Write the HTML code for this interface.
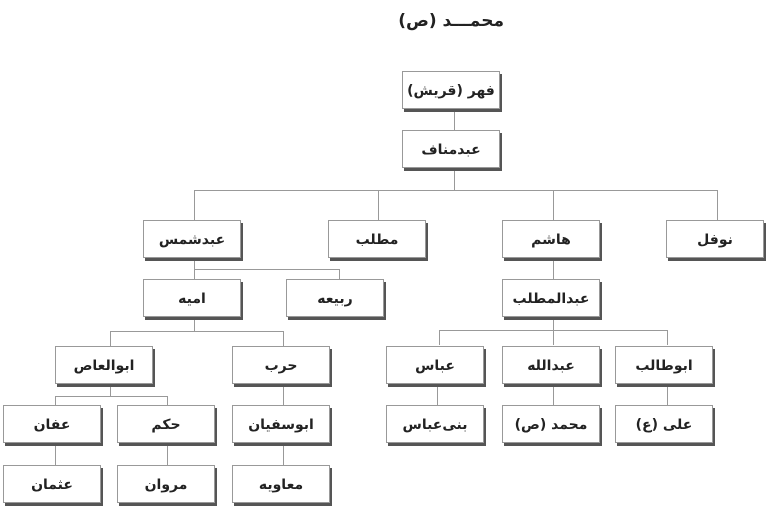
<!DOCTYPE html>
<html><head><meta charset="utf-8"><style>
body{margin:0;width:768px;height:507px;background:#fff;position:relative;overflow:hidden;font-family:"DejaVu Sans","Noto Sans CJK SC",sans-serif;}
.b{position:absolute;width:96px;height:35px;border:1px solid #999;background:#fff;box-shadow:2px 3px 0 #555;box-sizing:content-box;display:flex;align-items:center;justify-content:center;font-weight:bold;font-size:14px;color:#222;direction:rtl;padding-top:1px;}
.h,.v{position:absolute;background:#999;}
.h{height:1px}.v{width:1px}
.t{position:absolute;left:390px;top:11px;width:114px;text-align:right;direction:rtl;font-weight:bold;font-size:17px;color:#222;}
</style></head><body>
<div class="t">محمـــد (ص)</div>
<div class="v" style="left:454px;top:108px;height:22px"></div>
<div class="v" style="left:454px;top:168px;height:22px"></div>
<div class="h" style="left:194px;top:190px;width:524px"></div>
<div class="v" style="left:194px;top:190px;height:30px"></div>
<div class="v" style="left:378px;top:190px;height:30px"></div>
<div class="v" style="left:553px;top:190px;height:30px"></div>
<div class="v" style="left:717px;top:190px;height:30px"></div>
<div class="v" style="left:194px;top:258px;height:21px"></div>
<div class="h" style="left:194px;top:269px;width:145px"></div>
<div class="v" style="left:339px;top:269px;height:10px"></div>
<div class="v" style="left:194px;top:317px;height:14px"></div>
<div class="h" style="left:110px;top:331px;width:173px"></div>
<div class="v" style="left:110px;top:331px;height:15px"></div>
<div class="v" style="left:283px;top:331px;height:15px"></div>
<div class="v" style="left:110px;top:383px;height:13px"></div>
<div class="h" style="left:55px;top:396px;width:112px"></div>
<div class="v" style="left:55px;top:396px;height:9px"></div>
<div class="v" style="left:167px;top:396px;height:9px"></div>
<div class="v" style="left:283px;top:383px;height:22px"></div>
<div class="v" style="left:55px;top:443px;height:22px"></div>
<div class="v" style="left:167px;top:443px;height:22px"></div>
<div class="v" style="left:283px;top:443px;height:22px"></div>
<div class="v" style="left:553px;top:258px;height:21px"></div>
<div class="v" style="left:553px;top:317px;height:28px"></div>
<div class="h" style="left:439px;top:330px;width:228px"></div>
<div class="v" style="left:439px;top:330px;height:15px"></div>
<div class="v" style="left:667px;top:330px;height:15px"></div>
<div class="v" style="left:437px;top:384px;height:21px"></div>
<div class="v" style="left:553px;top:384px;height:21px"></div>
<div class="v" style="left:667px;top:384px;height:21px"></div>
<div class="b" style="left:402px;top:71px">فهر (قریش)</div>
<div class="b" style="left:402px;top:130px">عبدمناف</div>
<div class="b" style="left:143px;top:220px">عبدشمس</div>
<div class="b" style="left:328px;top:220px">مطلب</div>
<div class="b" style="left:502px;top:220px">هاشم</div>
<div class="b" style="left:666px;top:220px">نوفل</div>
<div class="b" style="left:143px;top:279px">امیه</div>
<div class="b" style="left:286px;top:279px">ربیعه</div>
<div class="b" style="left:502px;top:279px">عبدالمطلب</div>
<div class="b" style="left:55px;top:346px">ابوالعاص</div>
<div class="b" style="left:232px;top:346px">حرب</div>
<div class="b" style="left:386px;top:346px">عباس</div>
<div class="b" style="left:502px;top:346px">عبدالله</div>
<div class="b" style="left:615px;top:346px">ابوطالب</div>
<div class="b" style="left:3px;top:405px">عفان</div>
<div class="b" style="left:117px;top:405px">حکم</div>
<div class="b" style="left:232px;top:405px">ابوسفیان</div>
<div class="b" style="left:386px;top:405px">بنی‌عباس</div>
<div class="b" style="left:502px;top:405px">محمد (ص)</div>
<div class="b" style="left:615px;top:405px">علی (ع)</div>
<div class="b" style="left:3px;top:465px">عثمان</div>
<div class="b" style="left:117px;top:465px">مروان</div>
<div class="b" style="left:232px;top:465px">معاویه</div>
</body></html>
